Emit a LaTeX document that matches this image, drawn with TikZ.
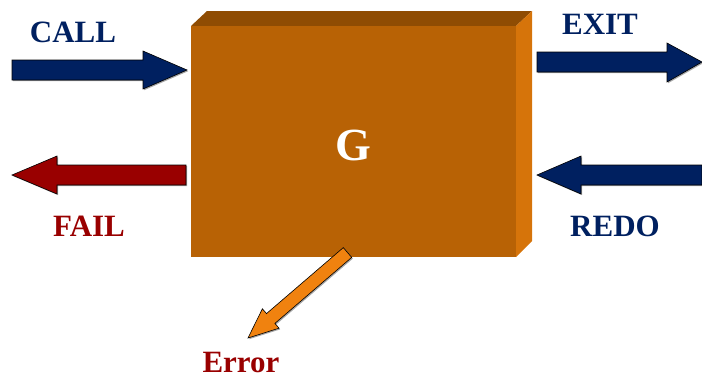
\documentclass[tikz,border=0pt]{standalone}
\usepackage{fontspec}
\setmainfont{Liberation Serif}
\definecolor{navy}{HTML}{002060}
\definecolor{darkred}{HTML}{990000}
\definecolor{boxfront}{HTML}{B86205}
\definecolor{boxtop}{HTML}{8F4C03}
\definecolor{boxside}{HTML}{D6740A}
\definecolor{errorange}{HTML}{F0820F}
\tikzset{
  arrowshape/.style={draw=black, line width=0.6pt, line join=miter},
  shadowshape/.style={fill=black!35, draw=none},
  lbl/.style={font=\fontsize{31}{31}\selectfont\bfseries, inner sep=0pt, anchor=center},
}
\begin{document}
\begin{tikzpicture}[x=1pt,y=-1pt]
\useasboundingbox (0,0) rectangle (702,378);
% box
\fill[boxtop] (191,26) -- (207,11) -- (532,11) -- (516,26) -- cycle;
\fill[boxside] (516,26) -- (532,11) -- (532,241) -- (516,257) -- cycle;
\fill[boxfront] (191,26) rectangle (516,257);
\node[lbl, text=white, font=\fontsize{46}{46}\selectfont\bfseries] (g) at (353,145) {G};
% CALL
\fill[shadowshape, shift={(1.2,1.2)}] (12,60) -- (143,60) -- (143,51) -- (187,70) -- (143,89) -- (143,80) -- (12,80) -- cycle;
\filldraw[arrowshape, fill=navy] (12,60) -- (143,60) -- (143,51) -- (187,70) -- (143,89) -- (143,80) -- (12,80) -- cycle;
\node[lbl, text=navy] (call) at (73,32) {CALL};
% EXIT
\fill[shadowshape, shift={(1.2,1.2)}] (537,52) -- (667,52) -- (667,43) -- (702,62) -- (667,82) -- (667,72) -- (537,72) -- cycle;
\filldraw[arrowshape, fill=navy] (537,52) -- (667,52) -- (667,43) -- (702,62) -- (667,82) -- (667,72) -- (537,72) -- cycle;
\node[lbl, text=navy] (exit) at (600,24) {EXIT};
% FAIL
\fill[shadowshape, shift={(1.2,1.2)}] (186,165) -- (57,165) -- (57,156) -- (12,175) -- (57,194) -- (57,185) -- (186,185) -- cycle;
\filldraw[arrowshape, fill=darkred] (186,165) -- (57,165) -- (57,156) -- (12,175) -- (57,194) -- (57,185) -- (186,185) -- cycle;
\node[lbl, text=darkred] (fail) at (89,226) {FAIL};
% REDO
\fill[shadowshape, shift={(1.2,1.2)}] (702,165) -- (581,165) -- (581,156) -- (537,175) -- (581,194) -- (581,185) -- (702,185) -- cycle;
\filldraw[arrowshape, fill=navy] (702,165) -- (581,165) -- (581,156) -- (537,175) -- (581,194) -- (581,185) -- (702,185) -- cycle;
\node[lbl, text=navy] (redo) at (615,226) {REDO};
% Error
\fill[shadowshape, shift={(1.2,1.2)}] (351.7,257.4) -- (343.3,247.6) -- (266.5,313.6) -- (262.4,308.8) -- (248,338) -- (279,328.2) -- (274.9,323.4) -- cycle;
\filldraw[arrowshape, fill=errorange] (351.7,257.4) -- (343.3,247.6) -- (266.5,313.6) -- (262.4,308.8) -- (248,338) -- (279,328.2) -- (274.9,323.4) -- cycle;
\node[lbl, text=darkred] (error) at (241,362) {Error};
\end{tikzpicture}
\end{document}
